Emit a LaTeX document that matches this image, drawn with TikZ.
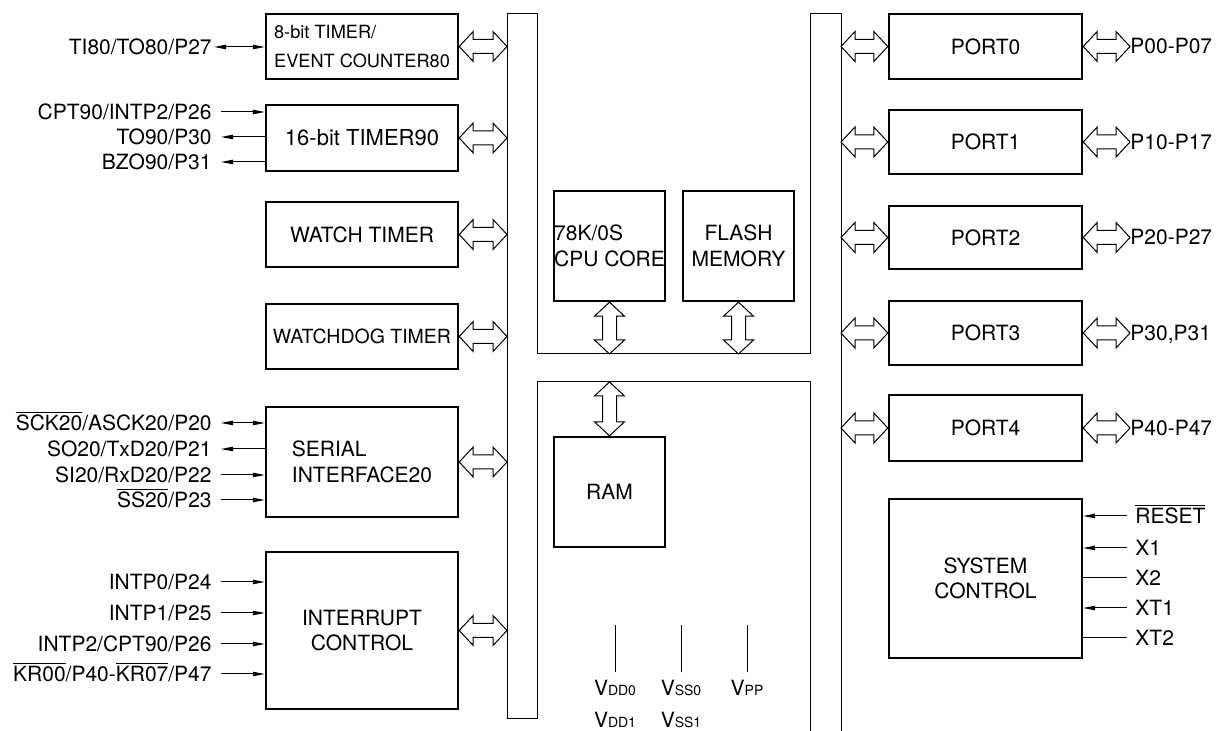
\documentclass[tikz,border=0pt]{standalone}
\usepackage{fontspec}
\setmainfont{TeX Gyre Heros}
\usetikzlibrary{arrows.meta, calc}
\newcommand{\ovl}[1]{$\overline{\mbox{#1}}$}
\newcommand{\vsub}[1]{V{\fontsize{7}{8}\selectfont #1}}

\begin{document}
\begin{tikzpicture}[
  x=0.5pt, y=-0.5pt,
  font=\fontsize{10.5}{12.8}\selectfont,
  >={Triangle[length=6pt, width=2.2pt]},
  block/.style={draw, line width=1.2pt, inner sep=0pt, align=center},
  lblock/.style={block, minimum width=96pt, minimum height=32.5pt},
  pblock/.style={block, minimum width=96.5pt, minimum height=32.5pt},
  cblock/.style={block, align=left, minimum width=55.5pt, minimum height=55pt},
  bus/.style={line width=0.5pt},
  sig/.style={line width=0.5pt},
  pinl/.style={anchor=east, inner sep=0pt, text height=7.5pt, text depth=0pt},
  pinr/.style={anchor=west, inner sep=0pt, text height=7.5pt, text depth=0pt},
  vlbl/.style={inner xsep=0pt, inner ysep=3.8pt, text height=7.5pt, text depth=0pt},
  hlink/.style={draw, line width=0.5pt, fill=white, to path={let \p1=(\tikztostart), \p2=(\tikztotarget) in
    (\x1,\y1) -- ++(7pt,7.5pt) -- ++(0pt,-4pt) -- (\x2-7pt,\y1+3.5pt) -- ++(0pt,4pt) -- (\x2,\y1)
    -- ++(-7pt,-7.5pt) -- ++(0pt,4pt) -- (\x1+7pt,\y1-3.5pt) -- ++(0pt,-4pt) -- cycle}},
  vlink/.style={draw, line width=0.5pt, fill=white, to path={let \p1=(\tikztostart), \p2=(\tikztotarget) in
    (\x1,\y1) -- ++(7.5pt,-7pt) -- ++(-4pt,0pt) -- (\x1+3.5pt,\y2+7pt) -- ++(4pt,0pt) -- (\x1,\y2)
    -- ++(-7.5pt,7pt) -- ++(4pt,0pt) -- (\x1-3.5pt,\y1-7pt) -- ++(-4pt,0pt) -- cycle}}
]
\useasboundingbox (0,0) rectangle (1221,731);

\draw[bus] (507,718) -- (507,14) -- (537,14) -- (537,354) -- (810,354) -- (810,14) -- (841,14) -- (841,731);
\draw[bus] (507,718) -- (537,718) -- (537,382) -- (810,382) -- (810,731);
\coordinate (busL) at (507,0);
\coordinate (busR) at (841,0);
\coordinate (busT) at (0,354);
\coordinate (busB) at (0,382);

\node[lblock, align=left, font=\fontsize{9.1}{14.5}\selectfont] (tmr80) at (362,46.5) {8-bit TIMER/\\EVENT COUNTER80};
\node[lblock, minimum height=33pt, font=\fontsize{11}{13}\selectfont] (tmr90) at (362,138) {16-bit TIMER90};
\node[lblock] (watch) at (362,234.5) {WATCH TIMER};
\node[lblock, font=\fontsize{9.75}{12}\selectfont] (wdog) at (362,336.5) {WATCHDOG TIMER};
\node[lblock, align=left, minimum height=55pt] (sio) at (362,462) {SERIAL\\INTERFACE20};
\node[lblock, minimum height=78.5pt] (intc) at (362,630.5) {INTERRUPT\\CONTROL};

\node[cblock] (cpu) at (609.5,246) {78K/0S\\CPU CORE};
\node[cblock, align=center] (flash) at (738.5,246) {FLASH\\MEMORY};
\node[cblock, align=center] (ram) at (609.5,492) {RAM};

\node[pblock] (port0) at (985.5,46.5) {PORT0};
\node[pblock, minimum height=32pt] (port1) at (985.5,142) {PORT1};
\node[pblock, minimum height=31.5pt] (port2) at (985.5,237.5) {PORT2};
\node[pblock, minimum height=32pt] (port3) at (985.5,333) {PORT3};
\node[pblock, minimum height=33pt] (port4) at (985.5,428) {PORT4};
\node[pblock, minimum height=79.5pt] (sysctl) at (985.5,578.5) {SYSTEM\\CONTROL};

\foreach \blk in {tmr80,tmr90,watch,wdog,sio,intc}
  \draw[hlink] (\blk.east) to (\blk.east -| busL);
\foreach \prt in {port0,port1,port2,port3,port4}
  \draw[hlink] (\prt.west -| busR) to (\prt.west);
\draw[vlink] (cpu.south) to (cpu.south |- busT);
\draw[vlink] (flash.south) to (flash.south |- busT);
\draw[vlink] (ram.north |- busB) to (ram.north);

\node[pinr] (p0) at (1130,46.5) {P00-P07};
\node[pinr] (p1) at (1130,142) {P10-P17};
\node[pinr] (p2) at (1130,237.5) {P20-P27};
\node[pinr] (p3) at (1130,333) {P30,P31};
\node[pinr] (p4) at (1130,428) {P40-P47};
\foreach \prt/\pins in {port0/p0,port1/p1,port2/p2,port3/p3,port4/p4}
  \draw[hlink] (\prt.east) to (\pins.west);

\node[pinl] (ti80) at (212,47) {TI80/TO80/P27};
\node[pinl] (cpt90) at (212,112) {CPT90/INTP2/P26};
\node[pinl] (to90) at (212,137) {TO90/P30};
\node[pinl] (bzo90) at (212,162) {BZO90/P31};
\node[pinl] (sck20) at (212,423) {\ovl{SCK20}/ASCK20/P20};
\node[pinl] (so20) at (212,449) {SO20/TxD20/P21};
\node[pinl] (si20) at (212,475) {SI20/RxD20/P22};
\node[pinl] (ss20) at (212,500) {\ovl{SS20}/P23};
\node[pinl] (intp0) at (212,582) {INTP0/P24};
\node[pinl] (intp1) at (212,613) {INTP1/P25};
\node[pinl] (intp2) at (212,644) {INTP2/CPT90/P26};
\node[pinl] (kr00) at (212,674) {\ovl{KR00}/P40-\ovl{KR07}/P47};

\draw[sig, <->, shorten <=1pt] (ti80.east) -- (ti80.east -| tmr80.west);
\draw[sig, ->, shorten <=4.5pt] (cpt90.east) -- (cpt90.east -| tmr90.west);
\draw[sig, <-, shorten <=4.5pt] (to90.east) -- (to90.east -| tmr90.west);
\draw[sig, <-, shorten <=4.5pt] (bzo90.east) -- (bzo90.east -| tmr90.west);
\draw[sig, <->, shorten <=4.5pt] (sck20.east) -- (sck20.east -| sio.west);
\draw[sig, <-, shorten <=4.5pt] (so20.east) -- (so20.east -| sio.west);
\draw[sig, ->, shorten <=4.5pt] (si20.east) -- (si20.east -| sio.west);
\draw[sig, ->, shorten <=4.5pt] (ss20.east) -- (ss20.east -| sio.west);
\foreach \sg in {intp0,intp1,intp2,kr00}
  \draw[sig, ->, shorten <=4.5pt] (\sg.east) -- (\sg.east -| intc.west);

\node[pinr] (reset) at (1135,516) {\ovl{RESET}};
\node[pinr] (x1) at (1135,548) {X1};
\node[pinr] (x2) at (1135,578) {X2};
\node[pinr] (xt1) at (1135,608) {XT1};
\node[pinr] (xt2) at (1135,638) {XT2};
\foreach \sg in {reset,x1,xt1}
  \draw[sig, ->, shorten <=4pt] (\sg.west) -- (\sg.west -| sysctl.east);
\foreach \sg in {x2,xt2}
  \draw[sig, shorten <=4pt] (\sg.west) -- (\sg.west -| sysctl.east);

\coordinate (vtop) at (0,625);
\node[vlbl] (vdd0) at (615,688) {\vsub{DD0}};
\node[vlbl] (vss0) at (681,688) {\vsub{SS0}};
\node[vlbl] (vpp) at (747,688) {\vsub{PP}};
\node[vlbl] (vdd1) at (615,720) {\vsub{DD1}};
\node[vlbl] (vss1) at (681,720) {\vsub{SS1}};
\foreach \vp in {vdd0,vss0,vpp}
  \draw[sig] (\vp.north) -- (\vp.north |- vtop);
\end{tikzpicture}
\end{document}
